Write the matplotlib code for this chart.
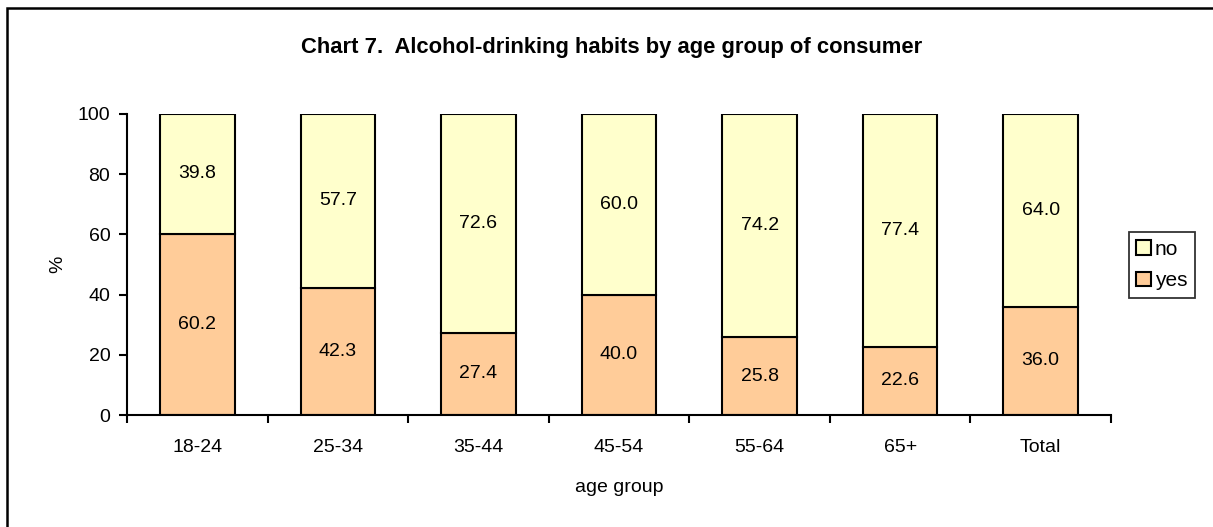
import matplotlib.pyplot as plt
from matplotlib.patches import Rectangle

groups = ["18-24", "25-34", "35-44", "45-54", "55-64", "65+", "Total"]
yes = [60.2, 42.3, 27.4, 40.0, 25.8, 22.6, 36.0]
no = [39.8, 57.7, 72.6, 60.0, 74.2, 77.4, 64.0]
yticks = [0, 20, 40, 60, 80, 100]

YES_COLOR = "#FFCC99"
NO_COLOR = "#FFFFCC"
FS = 14

plt.rcParams["font.family"] = ["Liberation Sans", "DejaVu Sans"]
plt.rcParams["font.size"] = FS

fig = plt.figure(figsize=(12.13, 5.27), dpi=100)
fig.patch.set_facecolor("white")

# outer chart frame (right and bottom edges fall outside the picture)
fig.patches.append(Rectangle((6.5 / 1213, -0.05), 1.2, 1 - 7.5 / 527 + 0.05,
                             transform=fig.transFigure, fill=False,
                             edgecolor="black", linewidth=1.8))

ax = fig.add_axes([127 / 1213, 1 - 415 / 527, (1111 - 127) / 1213, (415 - 114) / 527])
x = list(range(len(groups)))
w = 0.53
b1 = ax.bar(x, yes, width=w, color=YES_COLOR, edgecolor="black", linewidth=1.5, label="yes", zorder=2)
b2 = ax.bar(x, no, width=w, bottom=yes, color=NO_COLOR, edgecolor="black", linewidth=1.5, label="no", zorder=2)

for xi, y_, n_ in zip(x, yes, no):
    ax.text(xi, y_ / 2, f"{y_:.1f}", ha="center", va="center", fontsize=FS)
    ax.text(xi, y_ + n_ / 2, f"{n_:.1f}", ha="center", va="center", fontsize=FS)

ax.set_xlim(-0.5, len(groups) - 0.5)
ax.set_ylim(0, 100)
ax.set_yticks(yticks)
ax.set_xticks(x, groups)
ax.set_xticks([i - 0.5 for i in range(len(groups) + 1)], minor=True)
ax.tick_params(axis="x", which="major", length=0, pad=17, labelsize=FS)
ax.tick_params(axis="x", which="minor", length=6, width=1.5, direction="out")
ax.tick_params(axis="y", length=6, width=1.5, direction="out", labelsize=FS, pad=6)
for s in ["top", "right"]:
    ax.spines[s].set_visible(False)
for s in ["left", "bottom"]:
    ax.spines[s].set_linewidth(1.5)

ax.set_xlabel("age group", fontsize=FS, labelpad=17)
ax.set_ylabel("%", fontsize=FS, labelpad=8)

fig.text(612 / 1213, 1 - 48 / 527, "Chart 7.  Alcohol-drinking habits by age group of consumer",
         ha="center", va="center", fontsize=15.8, fontweight="bold")

leg = fig.legend([b2, b1], ["no", "yes"], loc="center left",
                 bbox_to_anchor=(1129 / 1213, 1 - 265 / 527), frameon=True,
                 fancybox=False, edgecolor="black", handlelength=0.7, handleheight=0.7,
                 handletextpad=0.2, borderpad=0.35, labelspacing=0.6, fontsize=FS + 1,
                 borderaxespad=0)
leg.get_frame().set_linewidth(1.3)

fig.savefig("out.png", dpi=100)
